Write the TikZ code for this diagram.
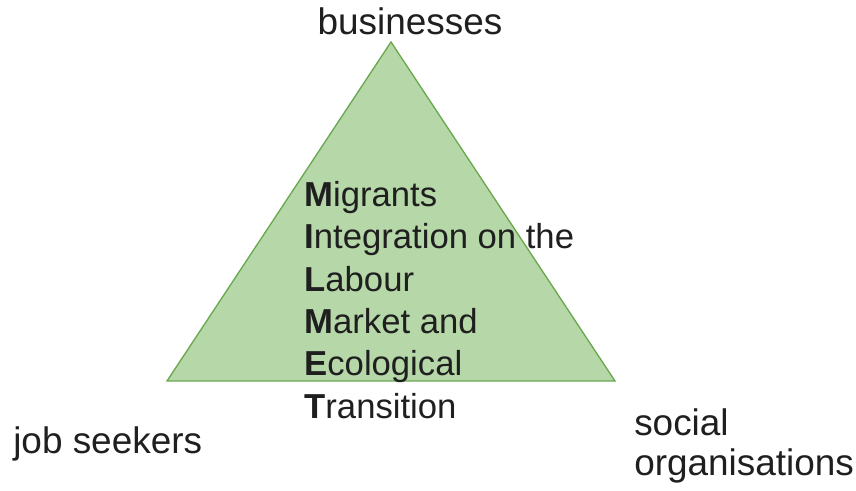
\documentclass[tikz,border=0pt]{standalone}
\usepackage{fontspec}
\setmainfont{Liberation Sans}
\usetikzlibrary{positioning}
\definecolor{trifill}{HTML}{B6D7A8}
\definecolor{triline}{HTML}{6AA84F}
\tikzset{
  label text/.style={inner sep=0pt,text=black!88,font=\fontsize{27.7}{30}\selectfont},
  block text/.style={inner sep=0pt,text=black!88,align=left,font=\fontsize{26}{31.8}\selectfont}
}
\begin{document}
\begin{tikzpicture}[x=0.75pt,y=-0.75pt]
\useasboundingbox (0,0) rectangle (856,491);

\coordinate (apex) at (391,42);
\coordinate (baseleft) at (167,381);
\coordinate (baseright) at (615,381);
\draw[triline,fill=trifill,line width=1pt,line join=miter] (apex) -- (baseleft) -- (baseright) -- cycle;

\node[label text,anchor=base] (biz) at (410,35) {businesses};
\node[label text,anchor=base west] (seekers) at (13,453) {job seekers};
\node[label text,anchor=base west] (social) at (634,435) {social};
\node[label text,anchor=base west] (orgs) at (634,475) {organisations};

\node[block text,anchor=north west] (mimlet) at (304,181) {%
\textbf{M}igrants\\
\textbf{I}ntegration on the\\
\textbf{L}abour\\
\textbf{M}arket and\\
\textbf{E}cological\\
\textbf{T}ransition};
\end{tikzpicture}
\end{document}
